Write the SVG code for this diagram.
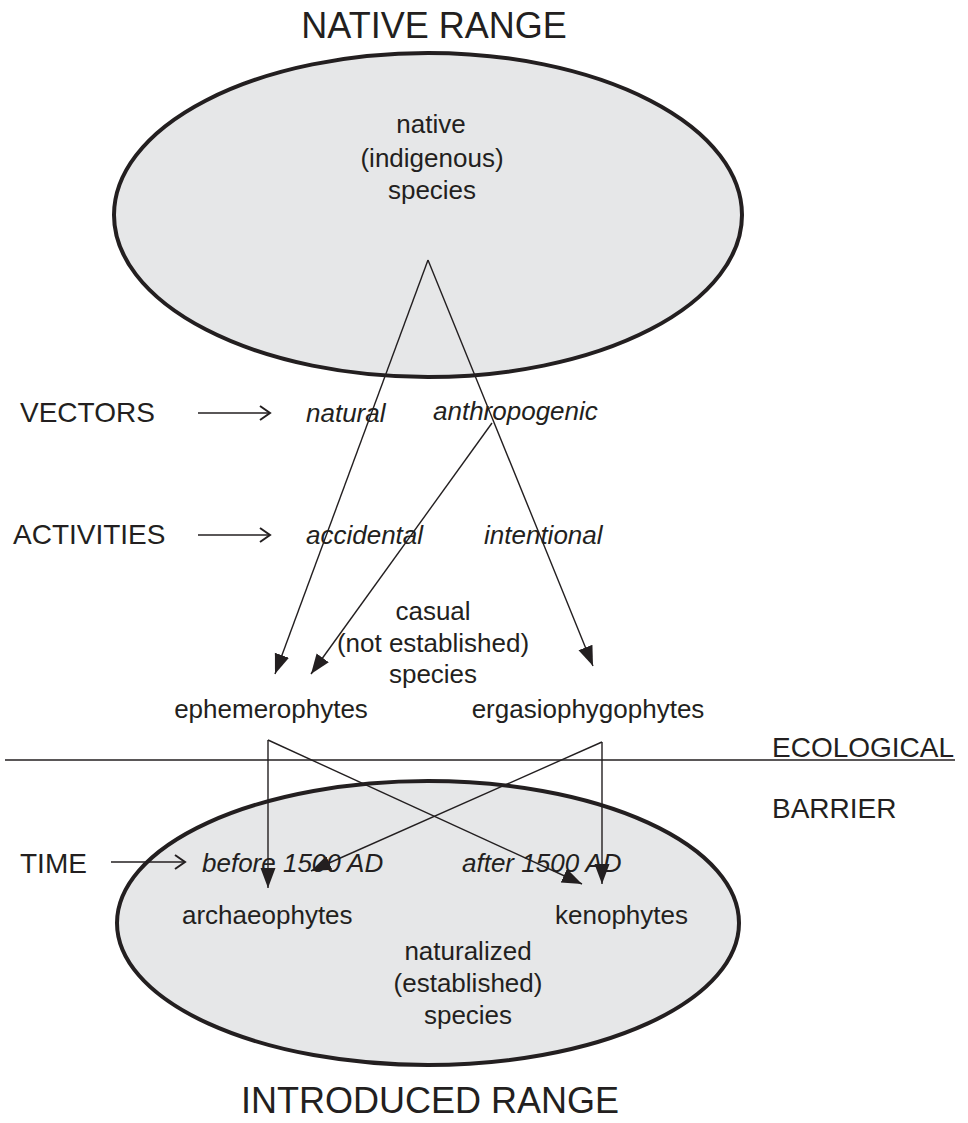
<svg xmlns="http://www.w3.org/2000/svg" width="968" height="1123" viewBox="0 0 968 1123">
<style>
text{font-family:"Liberation Sans",Arial,sans-serif;fill:#231f20}
.t{font-size:36px}
.c{font-size:28px}
.l{font-size:26px}
.i{font-size:26px;font-style:italic}
.m{text-anchor:middle}
.range{fill:#e6e7e8;stroke:#231f20;stroke-width:4}
.con{stroke:#231f20;stroke-width:1.4;fill:none}
.ptr{stroke:#231f20;stroke-width:1.6;fill:none}
</style>
<defs>
<marker id="tri" markerUnits="userSpaceOnUse" markerWidth="22" markerHeight="18" viewBox="0 0 22 18" refX="20" refY="9" orient="auto">
<path d="M0,1.5 L20,9 L0,16.5 Z" fill="#231f20"/>
</marker>
<marker id="open" markerUnits="userSpaceOnUse" markerWidth="14" markerHeight="18" viewBox="0 0 14 18" refX="12" refY="9" orient="auto">
<path d="M2,2 L12,9 L2,16" fill="none" stroke="#231f20" stroke-width="2"/>
</marker>
</defs>
<g id="native-range">
<ellipse class="range" cx="428" cy="215" rx="314" ry="162"/>
<text class="t m" x="434" y="38">NATIVE RANGE</text>
<text class="l m" x="431" y="133">native</text>
<text class="l m" x="432" y="167">(indigenous)</text>
<text class="l m" x="432" y="199">species</text>
</g>
<g id="introduced-range">
<ellipse class="range" cx="428" cy="923" rx="311" ry="142"/>
<text class="t m" x="430" y="1113">INTRODUCED RANGE</text>
</g>
<g id="barrier">
<line x1="5" y1="760" x2="955" y2="760" stroke="#231f20" stroke-width="1.5"/>
<text class="c" x="772" y="757">ECOLOGICAL</text>
<text class="c" x="772" y="818">BARRIER</text>
</g>
<g id="vectors">
<text class="c" x="20" y="422">VECTORS</text>
<line class="ptr" x1="198" y1="413" x2="270" y2="413" marker-end="url(#open)"/>
</g>
<g id="natural"><text class="i" x="306" y="422">natural</text></g>
<g id="anthropogenic"><text class="i" x="433" y="420">anthropogenic</text></g>
<g id="activities">
<text class="c" x="13" y="544">ACTIVITIES</text>
<line class="ptr" x1="198" y1="535" x2="270" y2="535" marker-end="url(#open)"/>
</g>
<g id="accidental"><text class="i" x="306" y="544">accidental</text></g>
<g id="intentional"><text class="i" x="484" y="544">intentional</text></g>
<g id="casual">
<text class="l m" x="433" y="620">casual</text>
<text class="l m" x="433" y="652">(not established)</text>
<text class="l m" x="433" y="683">species</text>
</g>
<g id="ephemerophytes"><text class="l m" x="271" y="718">ephemerophytes</text></g>
<g id="ergasiophygophytes"><text class="l m" x="588" y="718">ergasiophygophytes</text></g>
<g id="time">
<text class="c" x="20" y="873">TIME</text>
<line class="ptr" x1="111" y1="862" x2="185" y2="862" marker-end="url(#open)"/>
</g>
<g id="before-1500"><text class="i" x="202" y="872">before 1500 AD</text></g>
<g id="after-1500"><text class="i" x="462" y="872">after 1500 AD</text></g>
<g id="archaeophytes"><text class="l" x="182" y="924">archaeophytes</text></g>
<g id="kenophytes"><text class="l" x="555" y="924">kenophytes</text></g>
<g id="naturalized">
<text class="l m" x="468" y="960">naturalized</text>
<text class="l m" x="468" y="992">(established)</text>
<text class="l m" x="468" y="1024">species</text>
</g>
<g id="connectors">
<line class="con" x1="428" y1="260" x2="275" y2="674" marker-end="url(#tri)"/>
<line class="con" x1="428" y1="260" x2="593" y2="666" marker-end="url(#tri)"/>
<line class="con" x1="492" y1="423" x2="311" y2="674" marker-end="url(#tri)"/>
<line class="con" x1="268" y1="740" x2="268" y2="888" marker-end="url(#tri)"/>
<line class="con" x1="268" y1="740" x2="582" y2="884" marker-end="url(#tri)"/>
<line class="con" x1="602" y1="742" x2="602" y2="884" marker-end="url(#tri)"/>
<line class="con" x1="602" y1="742" x2="311" y2="871" marker-end="url(#tri)"/>
</g>
</svg>
